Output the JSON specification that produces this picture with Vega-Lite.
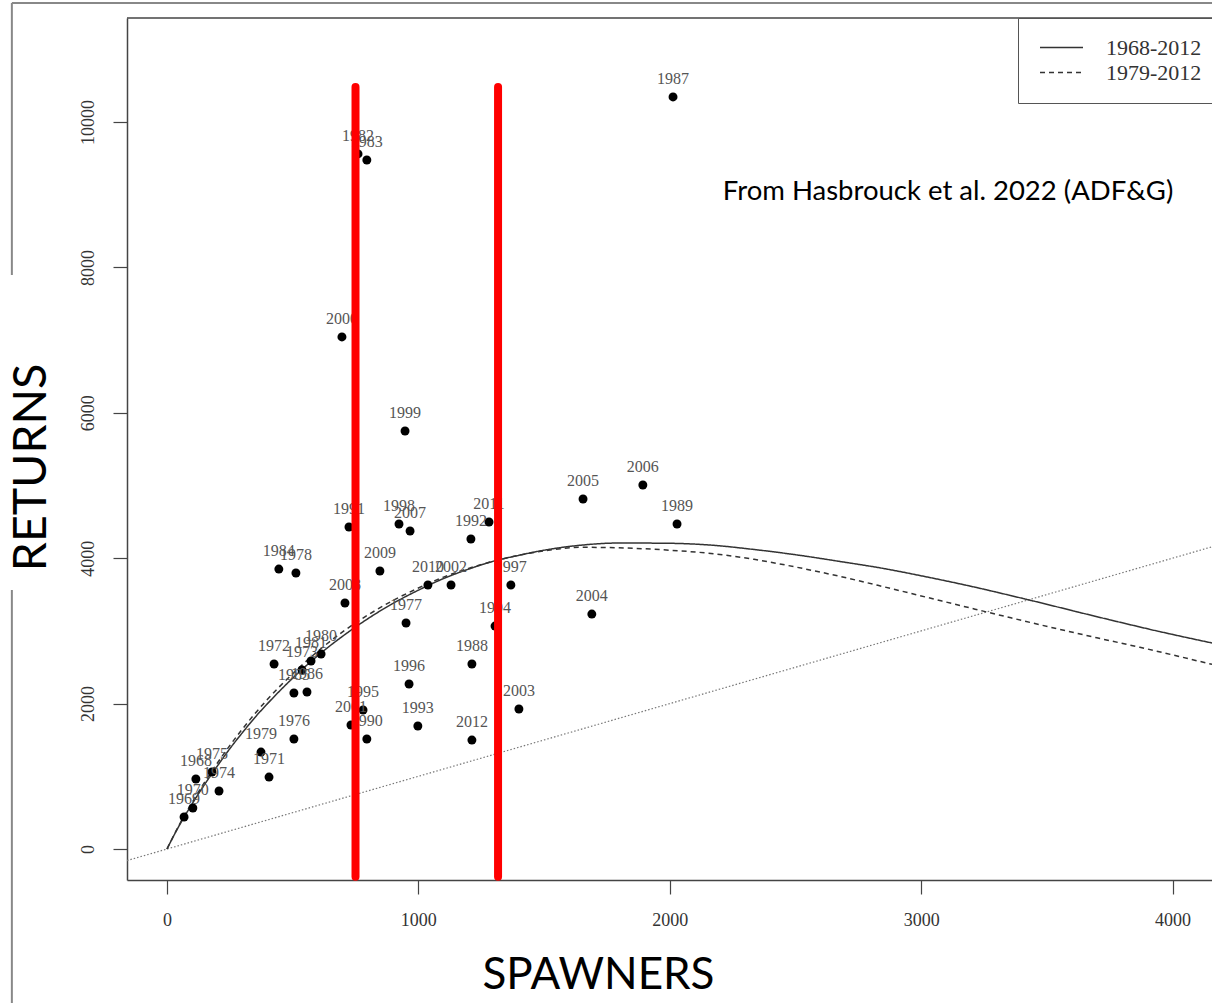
{
  "$schema": "https://vega.github.io/schema/vega-lite/v6.json",
  "width": 1085,
  "height": 862,
  "autosize": {"type": "none"},
  "padding": {"left": 127, "top": 18, "right": 0, "bottom": 123},
  "background": "white",
  "config": {
    "view": {"stroke": null},
    "axis": {
      "grid": false,
      "domainColor": "#444",
      "domainWidth": 1.5,
      "tickColor": "#444",
      "tickWidth": 1.2,
      "tickSize": 14,
      "labelFont": "Liberation Serif",
      "labelFontSize": 18,
      "labelColor": "#333",
      "titleFont": "Lato",
      "titleFontWeight": "normal",
      "titleColor": "black"
    },
    "legend": {
      "orient": "none",
      "legendX": 891,
      "legendY": 0,
      "strokeColor": "#555",
      "fillColor": "white",
      "padding": 19,
      "symbolOffset": 2,
      "clipHeight": 21,
      "symbolType": "stroke",
      "symbolSize": 1849,
      "symbolStrokeWidth": 1.5,
      "symbolStrokeColor": "#333",
      "labelFont": "Liberation Serif",
      "labelFontSize": 22,
      "labelColor": "#333",
      "labelOffset": 22,
      "rowPadding": 2,
      "title": null
    }
  },
  "datasets": {
    "points": [
      {"year": "1968", "S": 115, "R": 963},
      {"year": "1969", "S": 68, "R": 440},
      {"year": "1970", "S": 103, "R": 564},
      {"year": "1971", "S": 406, "R": 990},
      {"year": "1972", "S": 426, "R": 2545},
      {"year": "1973", "S": 537, "R": 2462},
      {"year": "1974", "S": 207, "R": 798},
      {"year": "1975", "S": 179, "R": 1059},
      {"year": "1976", "S": 505, "R": 1513},
      {"year": "1977", "S": 951, "R": 3109},
      {"year": "1978", "S": 513, "R": 3796},
      {"year": "1979", "S": 374, "R": 1334},
      {"year": "1980", "S": 613, "R": 2682},
      {"year": "1981", "S": 573, "R": 2586},
      {"year": "1982", "S": 760, "R": 9560},
      {"year": "1983", "S": 795, "R": 9477},
      {"year": "1984", "S": 445, "R": 3851},
      {"year": "1985", "S": 505, "R": 2146},
      {"year": "1986", "S": 557, "R": 2160},
      {"year": "1987", "S": 2013, "R": 10344},
      {"year": "1988", "S": 1213, "R": 2545},
      {"year": "1989", "S": 2029, "R": 4470},
      {"year": "1990", "S": 795, "R": 1513},
      {"year": "1991", "S": 724, "R": 4429},
      {"year": "1992", "S": 1209, "R": 4264},
      {"year": "1993", "S": 998, "R": 1692},
      {"year": "1994", "S": 1305, "R": 3067},
      {"year": "1995", "S": 780, "R": 1912},
      {"year": "1996", "S": 963, "R": 2270},
      {"year": "1997", "S": 1368, "R": 3631},
      {"year": "1998", "S": 923, "R": 4470},
      {"year": "1999", "S": 947, "R": 5750},
      {"year": "2000", "S": 696, "R": 7043},
      {"year": "2001", "S": 732, "R": 1706},
      {"year": "2002", "S": 1130, "R": 3631},
      {"year": "2003", "S": 1400, "R": 1926},
      {"year": "2004", "S": 1690, "R": 3232},
      {"year": "2005", "S": 1655, "R": 4814},
      {"year": "2006", "S": 1893, "R": 5007},
      {"year": "2007", "S": 967, "R": 4374},
      {"year": "2008", "S": 708, "R": 3384},
      {"year": "2009", "S": 847, "R": 3824},
      {"year": "2010", "S": 1038, "R": 3631},
      {"year": "2011", "S": 1281, "R": 4498},
      {"year": "2012", "S": 1213, "R": 1499}
    ],
    "curves": [
      {"series": "1968-2012", "S": 0, "R": 0},
      {"series": "1968-2012", "S": 25, "R": 170},
      {"series": "1968-2012", "S": 50, "R": 330},
      {"series": "1968-2012", "S": 100, "R": 620},
      {"series": "1968-2012", "S": 150, "R": 890},
      {"series": "1968-2012", "S": 200, "R": 1140},
      {"series": "1968-2012", "S": 250, "R": 1380},
      {"series": "1968-2012", "S": 300, "R": 1600},
      {"series": "1968-2012", "S": 350, "R": 1810},
      {"series": "1968-2012", "S": 400, "R": 2000},
      {"series": "1968-2012", "S": 500, "R": 2350},
      {"series": "1968-2012", "S": 600, "R": 2660},
      {"series": "1968-2012", "S": 700, "R": 2930},
      {"series": "1968-2012", "S": 800, "R": 3170},
      {"series": "1968-2012", "S": 900, "R": 3380},
      {"series": "1968-2012", "S": 1000, "R": 3560},
      {"series": "1968-2012", "S": 1100, "R": 3720},
      {"series": "1968-2012", "S": 1200, "R": 3850},
      {"series": "1968-2012", "S": 1300, "R": 3960},
      {"series": "1968-2012", "S": 1400, "R": 4040},
      {"series": "1968-2012", "S": 1500, "R": 4110},
      {"series": "1968-2012", "S": 1650, "R": 4180},
      {"series": "1968-2012", "S": 1800, "R": 4209},
      {"series": "1968-2012", "S": 2000, "R": 4205},
      {"series": "1968-2012", "S": 2164, "R": 4180},
      {"series": "1968-2012", "S": 2335, "R": 4120},
      {"series": "1968-2012", "S": 2506, "R": 4045},
      {"series": "1968-2012", "S": 2677, "R": 3955},
      {"series": "1968-2012", "S": 2848, "R": 3860},
      {"series": "1968-2012", "S": 3019, "R": 3745},
      {"series": "1968-2012", "S": 3190, "R": 3620},
      {"series": "1968-2012", "S": 3430, "R": 3425},
      {"series": "1968-2012", "S": 3700, "R": 3195},
      {"series": "1968-2012", "S": 3950, "R": 2990},
      {"series": "1968-2012", "S": 4157, "R": 2834},
      {"series": "1979-2012", "S": 0, "R": 0},
      {"series": "1979-2012", "S": 50, "R": 340},
      {"series": "1979-2012", "S": 100, "R": 640},
      {"series": "1979-2012", "S": 200, "R": 1180},
      {"series": "1979-2012", "S": 300, "R": 1650},
      {"series": "1979-2012", "S": 400, "R": 2060},
      {"series": "1979-2012", "S": 500, "R": 2410},
      {"series": "1979-2012", "S": 600, "R": 2720},
      {"series": "1979-2012", "S": 700, "R": 2990},
      {"series": "1979-2012", "S": 800, "R": 3220},
      {"series": "1979-2012", "S": 900, "R": 3420},
      {"series": "1979-2012", "S": 1000, "R": 3590},
      {"series": "1979-2012", "S": 1100, "R": 3740},
      {"series": "1979-2012", "S": 1200, "R": 3860},
      {"series": "1979-2012", "S": 1300, "R": 3960},
      {"series": "1979-2012", "S": 1400, "R": 4040},
      {"series": "1979-2012", "S": 1500, "R": 4100},
      {"series": "1979-2012", "S": 1650, "R": 4150},
      {"series": "1979-2012", "S": 1826, "R": 4140},
      {"series": "1979-2012", "S": 2000, "R": 4110},
      {"series": "1979-2012", "S": 2164, "R": 4065},
      {"series": "1979-2012", "S": 2335, "R": 3985},
      {"series": "1979-2012", "S": 2506, "R": 3875},
      {"series": "1979-2012", "S": 2677, "R": 3750},
      {"series": "1979-2012", "S": 2848, "R": 3610},
      {"series": "1979-2012", "S": 3019, "R": 3465},
      {"series": "1979-2012", "S": 3190, "R": 3320},
      {"series": "1979-2012", "S": 3357, "R": 3180},
      {"series": "1979-2012", "S": 3528, "R": 3040},
      {"series": "1979-2012", "S": 3699, "R": 2905},
      {"series": "1979-2012", "S": 3870, "R": 2775},
      {"series": "1979-2012", "S": 4000, "R": 2670},
      {"series": "1979-2012", "S": 4157, "R": 2540}
    ],
    "replacement": [
      {"S": -159, "R": -159},
      {"S": 4157, "R": 4157}
    ],
    "redlines": [
      {"S": 750},
      {"S": 1317}
    ],
    "one": [{}]
  },
  "layer": [
    {
      "data": {"name": "one"},
      "mark": {"type": "rule", "stroke": "#888", "strokeWidth": 2},
      "encoding": {
        "x": {"datum": -617, "type": "quantitative", "scale": {"domain": [-159, 4157], "nice": false, "zero": false}, "axis": {"values": [0, 1000, 2000, 3000, 4000], "format": "d", "title": "SPAWNERS", "titleFontSize": 44, "titleX": 471, "titleY": 95, "titleBaseline": "middle", "titleAlign": "center", "labelPadding": 17, "labelFlush": false}},
        "x2": {"datum": 4600},
        "y": {"datum": 11637, "type": "quantitative", "scale": {"domain": [-426, 11430], "nice": false, "zero": false}, "axis": {"values": [0, 2000, 4000, 6000, 8000, 10000], "format": "d", "title": "RETURNS", "titleFontSize": 46.5, "titleAngle": -90, "titleX": -96, "titleY": 449, "titleBaseline": "middle", "titleAlign": "center", "labelAngle": -90, "labelAlign": "center", "labelBaseline": "bottom", "labelPadding": 16}}
      }
    },
    {
      "data": {"name": "one"},
      "mark": {"type": "rule", "stroke": "#888", "strokeWidth": 2},
      "encoding": {
        "x": {"datum": -617, "type": "quantitative"},
        "y": {"datum": 11637, "type": "quantitative"},
        "y2": {"datum": 7895}
      }
    },
    {
      "data": {"name": "one"},
      "mark": {"type": "rule", "stroke": "#888", "strokeWidth": 2},
      "encoding": {
        "x": {"datum": -617, "type": "quantitative"},
        "y": {"datum": 3563, "type": "quantitative"},
        "y2": {"datum": -3000}
      }
    },
    {
      "data": {"name": "one"},
      "mark": {"type": "rule", "stroke": "#444", "strokeWidth": 1.5},
      "encoding": {
        "x": {"datum": -159, "type": "quantitative"},
        "x2": {"datum": 4157},
        "y": {"datum": 11430, "type": "quantitative"}
      }
    },
    {
      "data": {"name": "replacement"},
      "mark": {"type": "line", "stroke": "#777", "strokeWidth": 1.2, "strokeDash": [1.5, 2]},
      "encoding": {
        "x": {"field": "S", "type": "quantitative"},
        "y": {"field": "R", "type": "quantitative"}
      }
    },
    {
      "data": {"name": "curves"},
      "mark": {"type": "line", "stroke": "#333", "strokeWidth": 1.5, "interpolate": "monotone"},
      "encoding": {
        "x": {"field": "S", "type": "quantitative"},
        "y": {"field": "R", "type": "quantitative"},
        "strokeDash": {"field": "series", "type": "nominal", "scale": {"domain": ["1968-2012", "1979-2012"], "range": [[1, 0], [5, 4]]}, "legend": {"labelExpr": "datum.label + '    '"}}
      }
    },
    {
      "data": {"name": "points"},
      "mark": {"type": "point", "filled": true, "color": "black", "opacity": 1, "size": 80},
      "encoding": {
        "x": {"field": "S", "type": "quantitative"},
        "y": {"field": "R", "type": "quantitative"}
      }
    },
    {
      "data": {"name": "points"},
      "mark": {"type": "text", "font": "Liberation Serif", "fontSize": 16, "color": "#555", "dy": -18, "baseline": "middle", "align": "center"},
      "encoding": {
        "x": {"field": "S", "type": "quantitative"},
        "y": {"field": "R", "type": "quantitative"},
        "text": {"field": "year"}
      }
    },
    {
      "data": {"name": "redlines"},
      "mark": {"type": "rule", "color": "#ff0000", "strokeWidth": 8, "strokeCap": "round"},
      "encoding": {
        "x": {"field": "S", "type": "quantitative"},
        "y": {"datum": 10480, "type": "quantitative"},
        "y2": {"datum": -380}
      }
    },
    {
      "data": {"name": "one"},
      "mark": {"type": "text", "text": "From Hasbrouck et al. 2022 (ADF&G)", "font": "Lato", "fontSize": 27.5, "color": "black", "align": "center", "baseline": "middle"},
      "encoding": {
        "x": {"datum": 3107, "type": "quantitative"},
        "y": {"datum": 9037, "type": "quantitative"}
      }
    }
  ]
}
